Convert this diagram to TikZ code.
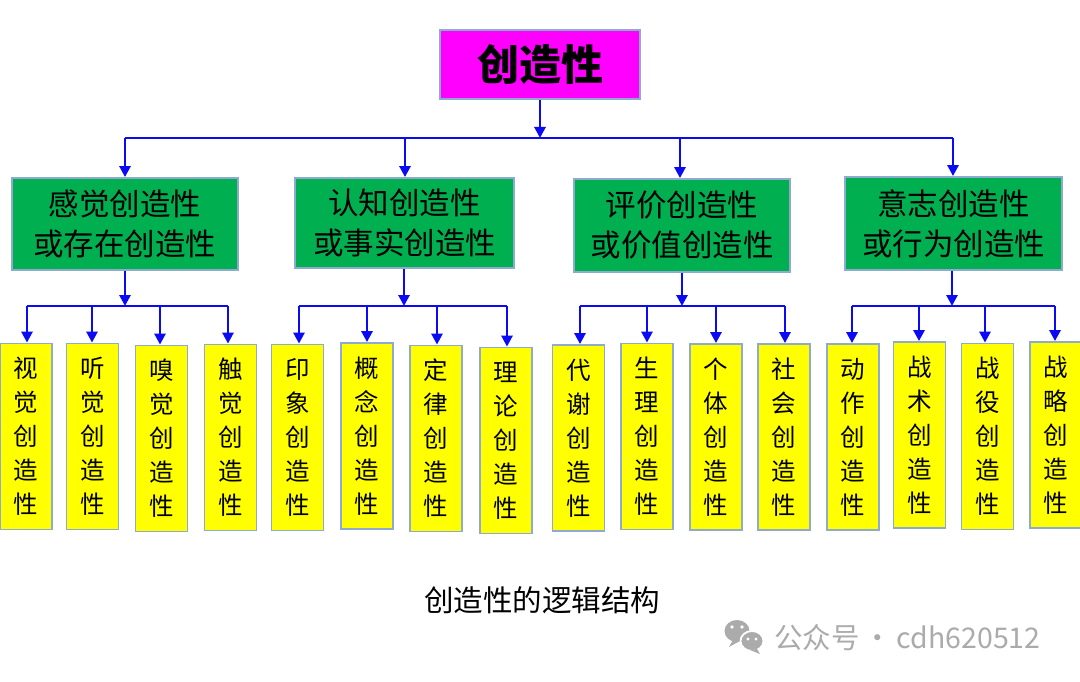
\documentclass[tikz,border=0pt]{standalone}
\usepackage{fontspec}
\newfontfamily\cjk{Noto Sans CJK SC}
\usetikzlibrary{arrows.meta}
\definecolor{rootc}{HTML}{FF00FF}
\definecolor{midc}{HTML}{00B050}
\definecolor{leafc}{HTML}{FFFF00}
\definecolor{edgec}{HTML}{8EAAD0}
\definecolor{linec}{HTML}{0A0AF5}
\definecolor{wmc}{HTML}{ABABAB}
\tikzset{
  box/.style={draw=edgec, line width=1.8pt, inner sep=0pt, align=center, font=\cjk},
  rootbox/.style={box, fill=rootc, minimum width=200pt, minimum height=69pt, font=\cjk\fontsize{42}{44}\selectfont\bfseries},
  midbox/.style={box, fill=midc, minimum width=218pt, minimum height=92pt, font=\cjk\fontsize{30.5}{40}\selectfont},
  leafbox/.style={box, fill=leafc, minimum width=52pt, minimum height=186pt, font=\cjk\fontsize{24.5}{34}\selectfont},
  conn/.style={draw=linec, line width=2.7pt},
  arr/.style={conn, -{Triangle[length=11pt,width=11pt]}},
}
\newcommand{\vtext}[5]{#1\\#2\\#3\\#4\\#5}
\begin{document}
\begin{tikzpicture}[x=1pt,y=-1pt]
\useasboundingbox[fill=white] (0,0) rectangle (1080,682);

% root
\node[rootbox] (root) at (540,64.5) {创造性};

% mid boxes
\node[midbox, minimum width=226pt] (m1) at (125,224) {感觉创造性\\或存在创造性};
\node[midbox, minimum width=219pt, minimum height=90pt] (m2) at (404.5,223) {认知创造性\\或事实创造性};
\node[midbox, minimum width=216pt, minimum height=93pt] (m3) at (682,225.5) {评价创造性\\或价值创造性};
\node[midbox, minimum width=217pt, minimum height=93pt] (m4) at (953.5,223.5) {意志创造性\\或行为创造性};

% leaves group 1
\node[leafbox] (l11) at (26,436.5) {\vtext{视}{觉}{创}{造}{性}};
\node[leafbox] (l12) at (92.5,436.5) {\vtext{听}{觉}{创}{造}{性}};
\node[leafbox] (l13) at (161.5,438.5) {\vtext{嗅}{觉}{创}{造}{性}};
\node[leafbox] (l14) at (230.5,437.5) {\vtext{触}{觉}{创}{造}{性}};
% group 2
\node[leafbox] (l21) at (297.5,437.5) {\vtext{印}{象}{创}{造}{性}};
\node[leafbox] (l22) at (367,436) {\vtext{概}{念}{创}{造}{性}};
\node[leafbox] (l23) at (436,438.5) {\vtext{定}{律}{创}{造}{性}};
\node[leafbox] (l24) at (506,440.5) {\vtext{理}{论}{创}{造}{性}};
% group 3
\node[leafbox] (l31) at (578.5,438) {\vtext{代}{谢}{创}{造}{性}};
\node[leafbox] (l32) at (647,436.5) {\vtext{生}{理}{创}{造}{性}};
\node[leafbox] (l33) at (716,437) {\vtext{个}{体}{创}{造}{性}};
\node[leafbox] (l34) at (784,437) {\vtext{社}{会}{创}{造}{性}};
% group 4
\node[leafbox] (l41) at (853,437) {\vtext{动}{作}{创}{造}{性}};
\node[leafbox] (l42) at (919.5,435) {\vtext{战}{术}{创}{造}{性}};
\node[leafbox] (l43) at (987.5,436.5) {\vtext{战}{役}{创}{造}{性}};
\node[leafbox] (l44) at (1056,435) {\vtext{战}{略}{创}{造}{性}};

% top bus
\coordinate (tb) at (540,138);
\coordinate (tbl) at (125,138);
\coordinate (tbr) at (953,138);
\draw[arr] (root.south) -- (tb);
\draw[conn] (tbl) -- (tbr);
\draw[arr] (tbl) -- (m1.north -| tbl);
\draw[arr] (405,138) -- (m2.north -| 405,0);
\draw[arr] (680,138) -- (m3.north -| 680,0);
\draw[arr] (tbr) -- (m4.north -| tbr);

% group buses
\foreach \m/\cx/\a/\b/\c/\d/\g in {m1/125/27/92/160/228/1, m2/404/299/367/437/507/2, m3/682/580/647/716/785/3, m4/952/852/919/985/1055/4}{
  \coordinate (b\g) at (\cx,306);
  \draw[arr] (\m.south -| b\g) -- (b\g);
  \draw[conn] (\a,306) -- (\d,306);
  \draw[arr] (\a,306) -- (l\g1.north -| \a,0);
  \draw[arr] (\b,306) -- (l\g2.north -| \b,0);
  \draw[arr] (\c,306) -- (l\g3.north -| \c,0);
  \draw[arr] (\d,306) -- (l\g4.north -| \d,0);
}

% caption
\node[font=\cjk\fontsize{29.5}{31}\selectfont] (cap) at (542,600) {创造性的逻辑结构};

% watermark icon
\fill[wmc] (737,631) ellipse [x radius=12.5pt, y radius=11pt];
\fill[wmc] (733,640) -- (729,647) -- (740,641) -- cycle;
\draw[white, line width=1.8pt, fill=wmc] (752,641) ellipse [x radius=11.5pt, y radius=10pt];
\fill[wmc] (757,649) -- (760,654) -- (750,650) -- cycle;
\fill[white] (732,627) circle (1.8pt) (742,627) circle (1.8pt);
\fill[white] (748,639) circle (1.6pt) (756,639) circle (1.6pt);
\node[font=\cjk\fontsize{28.5}{30}\selectfont, text=wmc, anchor=west, inner sep=0pt] (wm) at (774,638) {公众号\hspace{0.15em}·\hspace{0.15em}cdh620512};
\end{tikzpicture}
\end{document}
